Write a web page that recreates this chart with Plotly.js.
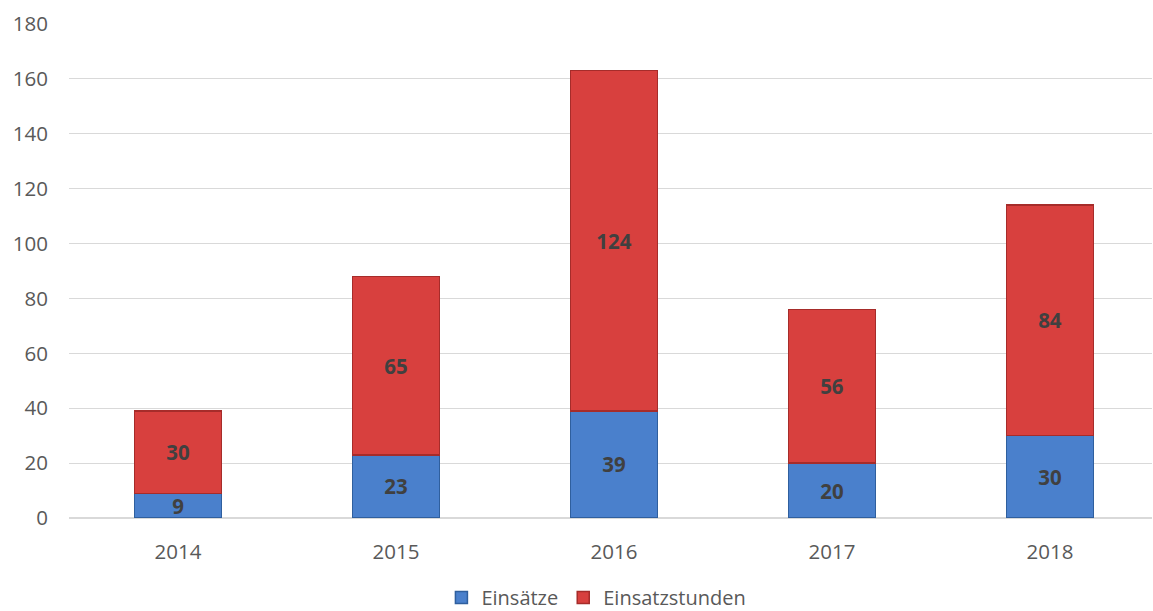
<!DOCTYPE html>
<html>
<head>
<meta charset="utf-8">
<script src="https://cdn.plot.ly/plotly-3.0.1.min.js"></script>
<style>html,body{margin:0;padding:0;background:#fff;overflow:hidden;}#chart{width:1153px;height:611px;}</style>
</head>
<body>
<div id="chart"></div>
<script>
const years = ["2014", "2015", "2016", "2017", "2018"];
const einsaetze = [9, 23, 39, 20, 30];
const einsatzstunden = [30, 65, 124, 56, 84];
const seriesNames = ["Einsätze", "Einsatzstunden"];
const yTicks = [0, 20, 40, 60, 80, 100, 120, 140, 160, 180];

const FONT = "'Open Sans', 'Liberation Sans', sans-serif";
const textFont = {family: FONT, size: 20.5, color: "#404040", weight: "bold"};

const traces = [
  {
    type: "bar", x: years, y: einsaetze, name: seriesNames[0],
    width: 0.4,
    marker: {color: "#4a80cc", line: {color: "#2f5f9e", width: 1.5}},
    text: einsaetze.map(String), textposition: "inside", insidetextanchor: "middle",
    textfont: textFont, constraintext: "none", textangle: 0,
    hoverinfo: "none"
  },
  {
    type: "bar", x: years, y: einsatzstunden, name: seriesNames[1],
    width: 0.4,
    marker: {color: "#d8403e", line: {color: "#a62c2a", width: 1.5}},
    text: einsatzstunden.map(String), textposition: "inside", insidetextanchor: "middle",
    textfont: textFont, constraintext: "none", textangle: 0,
    hoverinfo: "none"
  }
];

const layout = {
  width: 1153, height: 611,
  barmode: "stack",
  margin: {l: 69, r: 1, t: 24, b: 93},
  paper_bgcolor: "#ffffff", plot_bgcolor: "#ffffff",
  font: {family: FONT, color: "#595959", size: 20},
  xaxis: {
    type: "category", range: [-0.5, 4.468],
    showgrid: false, zeroline: false, showline: false, ticks: "",
    ticklabelstandoff: 19,
    tickfont: {size: 20.5, color: "#595959"}
  },
  yaxis: {
    range: [0, 180], tickvals: yTicks, ticktext: yTicks.map(String),
    showgrid: true, gridcolor: "#d9d9d9", gridwidth: 1.2,
    zeroline: true, zerolinecolor: "#d9d9d9", zerolinewidth: 1.2,
    showline: false, ticks: "", ticklen: 0,
    ticklabelstandoff: 20,
    tickfont: {size: 20.5, color: "#595959"},
    automargin: false
  },
  showlegend: true,
  legend: {
    orientation: "h", x: 0.487, xanchor: "center",
    yref: "container", y: 0.022, yanchor: "middle",
    font: {size: 20, color: "#595959"}, itemwidth: 30, traceorder: "normal"
  },
  bargap: 0.6
};

Plotly.newPlot("chart", traces, layout, {displayModeBar: false, staticPlot: true});
</script>
</body>
</html>
